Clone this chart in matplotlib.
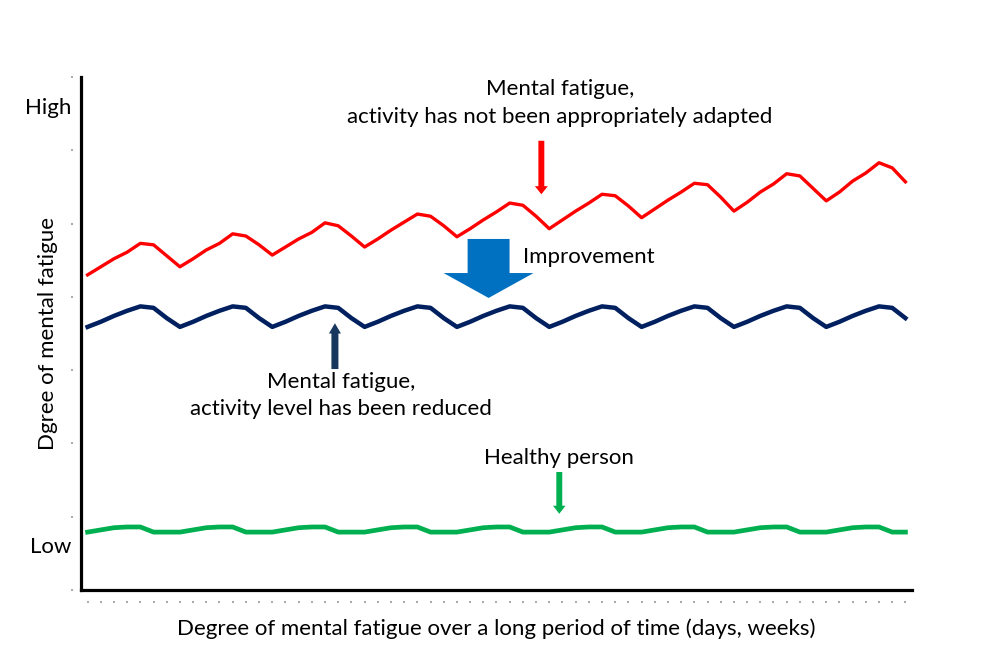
import matplotlib
matplotlib.use('Agg')
import matplotlib.pyplot as plt

plt.rcParams['font.family'] = ['Lato', 'DejaVu Sans']

# one point per day, nine weeks
days = list(range(63))

# mental fatigue, activity not adapted (red)
not_adapted = [4.30, 4.41, 4.52, 4.61, 4.73, 4.71, 4.56,
               4.41, 4.52, 4.64, 4.73, 4.86, 4.83, 4.71,
               4.57, 4.68, 4.79, 4.88, 5.01, 4.97, 4.83,
               4.68, 4.79, 4.91, 5.02, 5.13, 5.10, 4.97,
               4.82, 4.93, 5.05, 5.16, 5.28, 5.25, 5.10,
               4.93, 5.05, 5.17, 5.28, 5.40, 5.38, 5.24,
               5.08, 5.20, 5.32, 5.43, 5.55, 5.53, 5.36,
               5.17, 5.29, 5.43, 5.54, 5.68, 5.65, 5.48,
               5.31, 5.43, 5.58, 5.69, 5.83, 5.76, 5.57]

# mental fatigue, activity level reduced (navy)
reduced = [3.59, 3.66, 3.74, 3.81, 3.87, 3.85, 3.71,
           3.59, 3.66, 3.74, 3.81, 3.87, 3.85, 3.71,
           3.59, 3.66, 3.74, 3.81, 3.87, 3.85, 3.71,
           3.59, 3.66, 3.74, 3.81, 3.87, 3.85, 3.71,
           3.59, 3.66, 3.74, 3.81, 3.87, 3.85, 3.71,
           3.59, 3.66, 3.74, 3.81, 3.87, 3.85, 3.71,
           3.59, 3.66, 3.74, 3.81, 3.87, 3.85, 3.71,
           3.59, 3.66, 3.74, 3.81, 3.87, 3.85, 3.71,
           3.59, 3.66, 3.74, 3.81, 3.87, 3.85, 3.71]

# healthy person (green)
healthy = [0.79, 0.82, 0.85, 0.86, 0.86, 0.79, 0.79,
           0.79, 0.82, 0.85, 0.86, 0.86, 0.79, 0.79,
           0.79, 0.82, 0.85, 0.86, 0.86, 0.79, 0.79,
           0.79, 0.82, 0.85, 0.86, 0.86, 0.79, 0.79,
           0.79, 0.82, 0.85, 0.86, 0.86, 0.79, 0.79,
           0.79, 0.82, 0.85, 0.86, 0.86, 0.79, 0.79,
           0.79, 0.82, 0.85, 0.86, 0.86, 0.79, 0.79,
           0.79, 0.82, 0.85, 0.86, 0.86, 0.79, 0.79,
           0.79, 0.82, 0.85, 0.86, 0.86, 0.79, 0.79]

FS = 16

fig = plt.figure(figsize=(9.87, 6.48), dpi=100)
ax = fig.add_axes([81/987, 1 - 590/648, 831/987, 513/648])

ax.plot(days, not_adapted, color='#FF0000', lw=2.4, solid_joinstyle='round')
ax.plot(days, reduced, color='#002060', lw=3.2, solid_joinstyle='round')
ax.plot(days, healthy, color='#00B050', lw=3.4, solid_joinstyle='round')

ax.set_xlim(-0.5, 62.5)
ax.set_ylim(0, 7)
ax.set_xticks(days)
ax.set_yticks(range(8))

# tiny detached tick dots, axis lines drawn separately
for s in ['top', 'right']:
    ax.spines[s].set_visible(False)
ax.spines['left'].set_position(('outward', 6))
ax.spines['bottom'].set_position(('outward', 8))
ax.spines['left'].set_visible(False)
ax.spines['bottom'].set_visible(False)
ax.tick_params(length=1.5, width=1.2, color='#999999',
               labelleft=False, labelbottom=False)
ax.axvline(-0.5, color='black', lw=2.3, clip_on=False, solid_capstyle='projecting')
ax.axhline(0, color='black', lw=2.3, clip_on=False, solid_capstyle='projecting')

ax.set_xlabel('Degree of mental fatigue over a long period of time (days, weeks)', fontsize=FS)
ax.xaxis.label.set_va('center')
ax.xaxis.set_label_coords(0.5, -0.076)
ax.set_ylabel('Dgree of mental fatigue', fontsize=FS)
ax.yaxis.label.set_va('center')
ax.yaxis.set_label_coords(-0.0397, 0.5)

ax.text(-0.011, 6.58, 'High', transform=ax.get_yaxis_transform(),
        ha='right', va='center', fontsize=FS)
ax.text(-0.011, 0.59, 'Low', transform=ax.get_yaxis_transform(),
        ha='right', va='center', fontsize=FS)

# red: not adapted
ax.text(35.8, 6.64, 'Mental fatigue,\nactivity has not been appropriately adapted',
        ha='center', va='center', fontsize=FS, linespacing=1.5)
ax.arrow(34.4, 6.13, 0, -0.73, width=0.45, head_width=0.98, head_length=0.11,
         length_includes_head=True, color='#FF0000', lw=0)

# blue improvement arrow
ax.arrow(30.4, 4.79, 0, -0.805, width=3.18, head_width=6.82, head_length=0.34,
         length_includes_head=True, color='#0070C0', lw=0)
ax.text(33.0, 4.54, 'Improvement', ha='left', va='center', fontsize=FS)

# navy: reduced
ax.arrow(18.75, 3.015, 0, 0.625, width=0.53, head_width=0.91, head_length=0.14,
         length_includes_head=True, color='#17375E', lw=0)
ax.text(19.2, 2.65, 'Mental fatigue,\nactivity level has been reduced',
        ha='center', va='center', fontsize=FS, linespacing=1.45)

# green: healthy
ax.arrow(35.76, 1.61, 0, -0.57, width=0.45, head_width=0.95, head_length=0.11,
         length_includes_head=True, color='#00B050', lw=0)
ax.text(35.7, 1.80, 'Healthy person', ha='center', va='center', fontsize=FS)

fig.savefig('out.png', dpi=100)
